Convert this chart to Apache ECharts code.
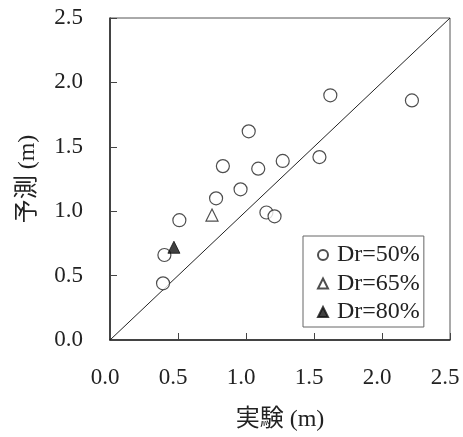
<!DOCTYPE html>
<html>
<head>
<meta charset="utf-8">
<script src="https://cdn.jsdelivr.net/npm/echarts@6/dist/echarts.min.js"></script>
<style>
  html, body { margin: 0; padding: 0; background: #fff; }
  #chart { width: 463px; height: 437px; }
</style>
</head>
<body>
<div id="chart"></div>
<script>
// Measured (実験) vs predicted (予測) values, in metres
const dr50 = [
  [0.39, 0.44], [0.40, 0.66], [0.51, 0.93], [0.78, 1.10], [0.83, 1.35],
  [0.96, 1.17], [1.02, 1.62], [1.09, 1.33], [1.15, 0.99], [1.21, 0.96],
  [1.27, 1.39], [1.54, 1.42], [1.62, 1.90], [2.22, 1.86]
];
const dr65 = [[0.75, 0.97]];
const dr80 = [[0.47, 0.72]];
const identityLine = [[0, 0], [2.5, 2.5]];
const seriesNames = ['Dr=50%', 'Dr=65%', 'Dr=80%'];
const tickLabels = ['0.0', '0.5', '1.0', '1.5', '2.0', '2.5'];

const serif = '"Liberation Serif", "Times New Roman", serif';
const cjkSerif = '"Liberation Serif", "Noto Sans CJK JP", serif';

const chart = echarts.init(document.getElementById('chart'), null, { renderer: 'canvas' });

const axisCommon = {
  type: 'value',
  min: 0,
  max: 2.5,
  interval: 0.5,
  splitLine: { show: false },
  axisLine: { show: true, lineStyle: { color: '#222', width: 1.5 } },
  axisTick: { show: true, inside: true, length: 7, lineStyle: { color: '#444', width: 1 } },
  nameLocation: 'middle',
  nameTextStyle: { fontFamily: cjkSerif, fontSize: 24, color: '#222' }
};

chart.setOption({
  animation: false,
  backgroundColor: '#fff',
  grid: {
    left: 110, right: 13, top: 18, bottom: 95,
    show: true, borderColor: '#555', borderWidth: 1, backgroundColor: 'transparent'
  },
  xAxis: Object.assign({}, axisCommon, {
    name: '実験 (m)',
    nameGap: 68,
    axisLabel: {
      fontFamily: serif, fontSize: 23, color: '#222', margin: 26,
      padding: [0, 10, 0, 0],
      formatter: v => tickLabels[Math.round(v / 0.5)]
    }
  }),
  yAxis: Object.assign({}, axisCommon, {
    name: '予測 (m)',
    nameGap: 70,
    axisLabel: {
      fontFamily: serif, fontSize: 23, color: '#222', margin: 27,
      formatter: v => tickLabels[Math.round(v / 0.5)]
    }
  }),
  legend: {
    data: seriesNames,
    orient: 'vertical',
    left: 303,
    top: 236,
    borderColor: '#666',
    borderWidth: 1,
    padding: [7, 4, 3, 14],
    itemGap: 4.5,
    itemWidth: 10,
    itemHeight: 10,
    textStyle: { fontFamily: serif, fontSize: 24, color: '#222', padding: [0, 0, 0, 4] }
  },
  series: [
    {
      type: 'line',
      data: identityLine,
      symbol: 'none',
      silent: true,
      lineStyle: { color: '#222', width: 1 },
      z: 1
    },
    {
      name: seriesNames[0],
      type: 'scatter',
      data: dr50,
      symbol: 'circle',
      symbolSize: 13,
      itemStyle: { color: '#fff', borderColor: '#222', borderWidth: 1.2 },
      z: 3
    },
    {
      name: seriesNames[1],
      type: 'scatter',
      data: dr65,
      symbol: 'triangle',
      symbolSize: 12,
      itemStyle: { color: '#fff', borderColor: '#222', borderWidth: 1.2 },
      z: 3
    },
    {
      name: seriesNames[2],
      type: 'scatter',
      data: dr80,
      symbol: 'triangle',
      symbolSize: 12,
      itemStyle: { color: '#111', borderColor: '#111', borderWidth: 1 },
      z: 4
    }
  ]
});
</script>
</body>
</html>
